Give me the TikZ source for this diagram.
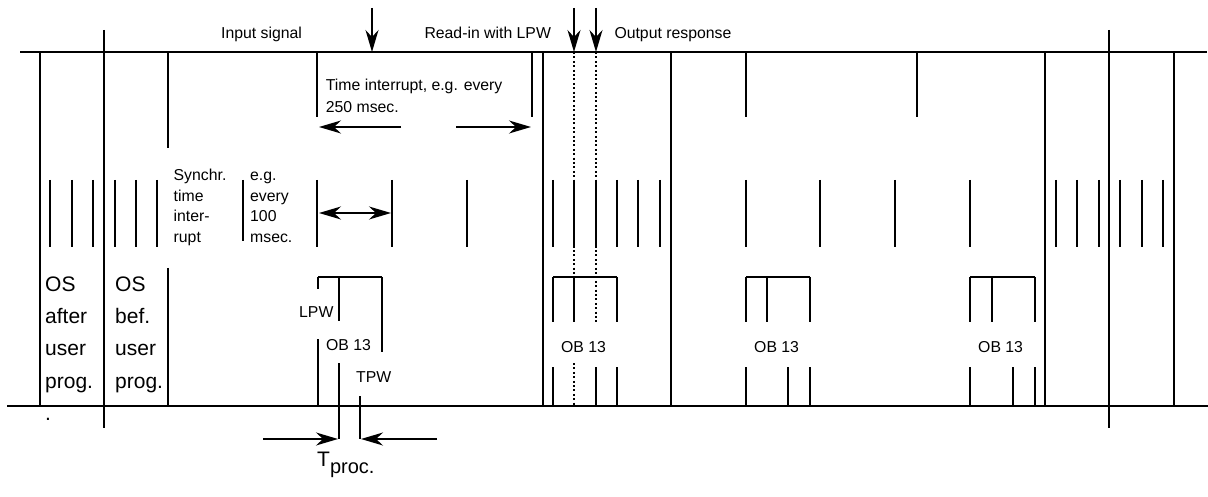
\documentclass[tikz,border=0pt]{standalone}
\usepackage{fontspec}
\setmainfont{Liberation Sans}
\usetikzlibrary{arrows.meta}
\begin{document}
\begin{tikzpicture}[x=1pt,y=-1pt,
  ln/.style={line width=1.4pt},
  tk/.style={line width=1.6pt},
  dotl/.style={line width=2pt, dash pattern=on 2pt off 2.4pt},
  tip/.tip={Stealth[length=22pt,width=13pt,inset=7pt]},
  arr/.style={line width=1.4pt, -tip},
  darr/.style={line width=1.4pt, tip-tip},
  sm/.style={font=\fontsize{15.8}{21}\selectfont, inner sep=0pt, anchor=base west},
  bg/.style={font=\fontsize{21}{32}\selectfont, inner sep=0pt, anchor=base west}]
\useasboundingbox (0,0) rectangle (1208,497);

% time axes
\coordinate (tl) at (20,52);   \coordinate (tr) at (1207,52);
\coordinate (bl) at (7,406);   \coordinate (br) at (1208,406);
\draw[ln] (tl) -- (tr);
\draw[ln] (bl) -- (br);

% full verticals
\foreach \x in {40,543,671,1045,1174} \draw[ln] (\x,52) -- (\x,406);
\foreach \x in {104,1109} \draw[ln] (\x,30) -- (\x,428);
\draw[ln] (168,52) -- (168,148);
\draw[ln] (168,268) -- (168,406);

% upper short ticks
\foreach \x in {317,532,746,917} \draw[ln] (\x,52) -- (\x,117);

% middle ticks
\foreach \x in {50,72,93,115,136,157,317,392,467,553,574,596,617,638,660,746,820,895,970,1056,1077,1099,1120,1142,1163}
  \draw[tk] (\x,180) -- (\x,247);
\draw[ln] (243,180) -- (243,241);

% dotted read-in / output lines
\draw[dotl] (574,52) -- (574,322);
\draw[dotl] (574,363) -- (574,406);
\draw[dotl] (596,52) -- (596,322);

% OB 13 bracket, first (with LPW / TPW)
\draw[ln] (318,277) -- (382,277);
\draw[ln] (318,277) -- (318,289);
\draw[ln] (318,339) -- (318,406);
\draw[ln] (339,277) -- (339,321);
\draw[ln] (339,363) -- (339,439);
\draw[ln] (382,277) -- (382,352);
\draw[ln] (360,396) -- (360,439);

% OB 13 brackets, others
\foreach \a/\b/\c/\d in {553/574/617/596, 746/767/810/788, 970/992/1035/1013}{
  \draw[ln] (\a,277) -- (\c,277);
  \foreach \x in {\a,\b,\c} \draw[ln] (\x,277) -- (\x,322);
  \foreach \x in {\a,\d,\c} \draw[ln] (\x,367) -- (\x,406);
}

% arrows
\coordinate (a1s) at (372,8);  \coordinate (a1e) at (372,52);
\coordinate (a2s) at (574,8);  \coordinate (a2e) at (574,52);
\coordinate (a3s) at (596,8);  \coordinate (a3e) at (596,52);
\draw[arr] (a1s) -- (a1e);
\draw[arr] (a2s) -- (a2e);
\draw[arr] (a3s) -- (a3e);
\coordinate (t1s) at (401,127); \coordinate (t1e) at (319,127);
\coordinate (t2s) at (456,127); \coordinate (t2e) at (531,127);
\draw[arr] (t1s) -- (t1e);
\draw[arr] (t2s) -- (t2e);
\coordinate (d1) at (319,213); \coordinate (d2) at (391,213);
\draw[darr] (d1) -- (d2);
\coordinate (p1s) at (263,439); \coordinate (p1e) at (338,439);
\coordinate (p2s) at (437,439); \coordinate (p2e) at (361,439);
\draw[arr] (p1s) -- (p1e);
\draw[arr] (p2s) -- (p2e);

% labels
\node[sm] (insig) at (221,39) {Input signal};
\node[sm] (readin) at (424.3,39) {Read-in with LPW};
\node[sm] (outresp) at (614.3,39) {Output response};
\node[sm] (ti1) at (325.7,90.7) {Time interrupt, e.g. every};
\node[sm] (ti2) at (325.7,113) {250 msec.};
\foreach \t [count=\i] in {Synchr.,time,inter-,rupt}
  \node[sm] (syn\i) at (173.5,{180.5+20.7*(\i-1)}) {\t};
\foreach \t [count=\i] in {e.g.,every,100,msec.}
  \node[sm] (eg\i) at (250,{180.5+20.7*(\i-1)}) {\t};
\foreach \t [count=\i] in {OS,after,user,prog.,.}
  \node[bg] (osa\i) at (45,{291.7+32.1*(\i-1)}) {\t};
\foreach \t [count=\i] in {OS,bef.,user,prog.}
  \node[bg] (osb\i) at (115,{291.7+32.1*(\i-1)}) {\t};
\node[sm] (lpw) at (299,317.7) {LPW};
\node[sm] (ob0) at (326,350) {OB 13};
\node[sm] (tpw) at (356,382) {TPW};
\node[sm] (ob1) at (561,352.7) {OB 13};
\node[sm] (ob2) at (754,352.7) {OB 13};
\node[sm] (ob3) at (978,352.7) {OB 13};
\node[inner sep=0pt, anchor=base west, font=\fontsize{21}{25}\selectfont] (tproc) at (317,466.7)
  {T\raisebox{-6.5pt}{\fontsize{20}{24}\selectfont proc.}};
\end{tikzpicture}
\end{document}
